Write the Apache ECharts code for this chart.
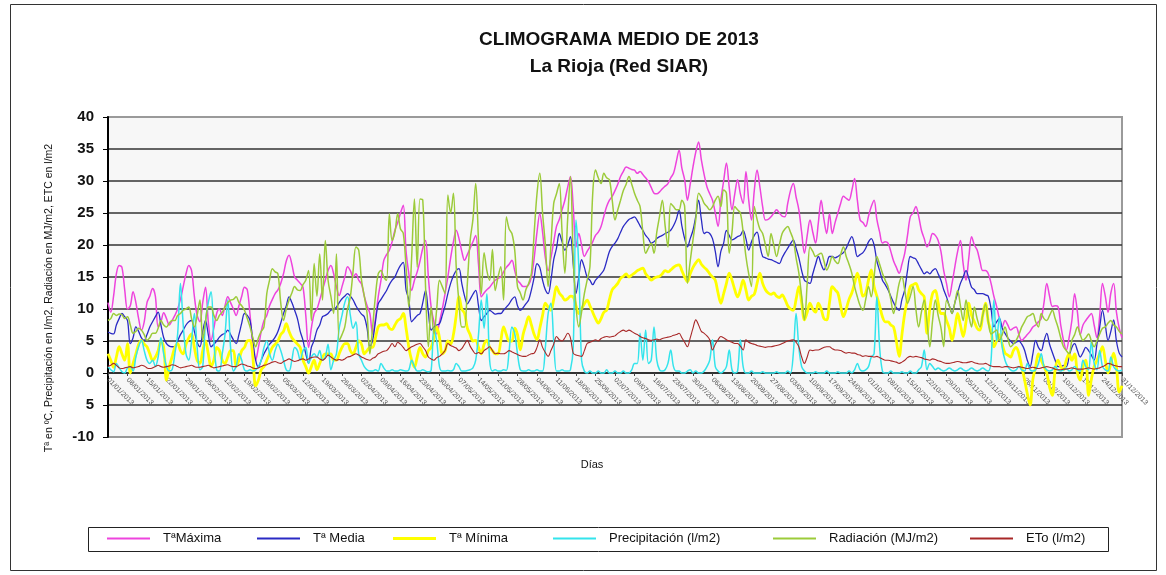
<!DOCTYPE html>
<html>
<head>
<meta charset="utf-8">
<title>Climograma medio 2013 - La Rioja</title>
<script src="https://cdn.jsdelivr.net/npm/echarts@6/dist/echarts.min.js"></script>
<style>
  html, body { margin: 0; padding: 0; background: #fff; }
  #chart { width: 1166px; height: 575px; }
</style>
</head>
<body>
<div id="chart"></div>
<script>
// valores diarios (01/01/2013 - 31/12/2013)
const tMax = [
  11, 9.5, 12, 15.5, 16.8, 16.5, 13, 10, 10.5, 12.7,
  11, 8.5, 6.7, 8, 11, 12, 13.2, 12, 7.2, 8,
  9.4, 8.5, 7.5, 8.2, 9, 10, 11.5, 13.5, 15.5, 16.8,
  16, 12, 9, 8, 11, 13.4, 8, 5.1, 7, 9.3,
  10, 9, 10.5, 11.9, 11, 10, 9, 10.5, 12, 13.4,
  13, 9, 4.5, 2, 4, 6.5, 8.2, 9, 10.5, 11.5,
  12.4, 13, 14, 15.5, 17.5, 18.4, 17, 15, 14.5, 14,
  13.4, 9, 4, 7, 9.3, 10, 11.4, 13, 14.5, 16,
  16.8, 15.5, 13.5, 12.1, 13.5, 15, 16.6, 16, 15, 15.5,
  14.5, 13.9, 12, 10.5, 9.3, 6.1, 8.5, 11.9, 14.5, 17.6,
  18.5, 19.2, 20.5, 22.3, 23.5, 25, 26.2, 19, 15.5, 12.9,
  14.5, 15.8, 17.5, 19.5, 20.7, 15, 10.3, 8, 6.1, 8,
  10, 12.4, 15, 18, 20.5, 22.3, 21, 19, 17.6, 18.5,
  19.5, 20.5, 21.5, 17, 11.9, 12.5, 13, 13.4, 14, 14.5,
  14.8, 15, 15.8, 16.5, 17, 17.6, 16, 14.5, 14, 13.5,
  13.5, 13.8, 15, 18, 22, 24.9, 22, 18, 16, 18,
  20.5, 22.9, 24, 25.5, 27, 29, 30.7, 26, 19.7, 21.8,
  20, 18.2, 19, 19.7, 20.5, 21.5, 22, 22.9, 24.5, 26,
  27, 27.6, 28.5, 29.5, 30.7, 31.5, 32.2, 32, 31.8, 31.7,
  31.2, 31.5, 31, 30.5, 29.9, 29, 28.1, 28, 28.3, 28.8,
  29.2, 29.6, 30.5, 31.2, 33, 34.8, 32, 30.2, 27, 29.5,
  32.2, 34.5, 36.1, 33.3, 31, 29.1, 28, 27, 25, 22.9,
  27, 30, 32.8, 29, 25.5, 28, 30.2, 28, 26.5, 31.5,
  27, 23.9, 28.5, 31.7, 29.1, 26, 23.9, 24, 24.4, 25,
  25.5, 25, 24.5, 24.4, 26.5, 28.5, 29.6, 27.5, 25.5, 22,
  18.7, 21.5, 23.9, 22, 20.3, 23.5, 27, 24, 21.8, 24.9,
  21.8, 23.5, 25, 26.5, 27.6, 27.3, 27, 28.5, 30.4, 27,
  23.9, 23.5, 22.9, 24.5, 26, 27, 24, 22, 20.3, 20.5,
  20.3, 19, 17.5, 16.5, 15.6, 17, 18.7, 21.5, 24.4, 25,
  26, 24.5, 22.3, 21, 19.7, 20.5, 21.8, 21.5, 20.7, 19,
  16, 14, 11.9, 14, 16.6, 19, 20.7, 17, 14.5, 18,
  21.3, 20, 19.2, 17.5, 16, 16, 15.5, 14, 12, 10.4,
  8.5, 7.2, 8.2, 7.5, 6.7, 7, 7.2, 6, 5.1, 5.5,
  6, 6.5, 7.2, 7.5, 8, 8.5, 11, 14, 12, 10.4,
  10.5, 10.4, 7.5, 5.1, 3.6, 5.5, 8.2, 12.4, 9.5, 6,
  7.5, 8.2, 8.8, 9.3, 7.5, 5.5, 9, 14, 12, 9.5,
  12.5, 14, 9.5, 7, 5.5
];

const tMed = [
  6.4, 6.2, 6.1, 7.5, 8.5, 9.3, 8.8, 8.2, 4.6, 5.5,
  7.2, 6.5, 5.5, 5.1, 6, 7.2, 8, 8.8, 9.5, 7.5,
  5.5, 4.6, 4.2, 4.1, 4.1, 5, 6, 6.7, 7.5, 8,
  8.2, 6.5, 4.8, 4.1, 6.5, 8.2, 6, 4.1, 4.5, 5,
  5.6, 6, 6.2, 6.7, 6, 5.2, 4.6, 6, 7.8, 9.3,
  9, 8.2, 5, 2, 0.9, 2, 3, 3.8, 4.5, 5,
  5.6, 6.5, 7.8, 9.3, 10.5, 11.9, 11, 9.8, 8.5, 6.5,
  5.1, 3, 1.5, 4, 5.1, 6.7, 7.5, 8.8, 9, 9.3,
  9.8, 10, 10.3, 11, 11.6, 12, 12.4, 12, 11.4, 10.5,
  9.8, 9.2, 8.8, 7, 4.1, 5.1, 8, 10.8, 11.5, 12.2,
  12.9, 13.8, 14.5, 15, 16, 16.8, 17.3, 13, 11.4, 8,
  8.5, 9, 9.3, 11, 12.9, 9.5, 6.7, 7.2, 7.5, 7.7,
  9, 10.5, 12.4, 14, 15.2, 16, 16.3, 14, 12, 10.8,
  11.5, 12.3, 12.9, 10.5, 8.2, 8.8, 9.3, 9.8, 9.5, 9.2,
  9.3, 9.3, 9.8, 10.3, 10.8, 11.5, 11.9, 10.5, 9.8, 10.2,
  10.8, 11.4, 13, 15, 17.1, 16.5, 14.5, 13, 12.4, 14.5,
  17.7, 19.5, 21.8, 20.5, 19.2, 20, 21.3, 17, 12.4, 15,
  17.7, 16.5, 15, 14.5, 13.8, 14.5, 15, 15.5, 16.1, 17.5,
  19, 19.8, 20.3, 21, 22, 22.9, 23.5, 24, 24.2, 24.4,
  23.8, 23, 22.3, 21.5, 21, 20.3, 20.5, 21, 21.3, 21.5,
  21.8, 22, 22.3, 23, 24, 25.5, 23, 21, 19.7, 21,
  22.3, 24.5, 27, 24, 21.8, 22, 21.8, 21, 19, 16.6,
  19, 20.3, 22.3, 21.5, 20.8, 21, 21.3, 21.5, 22.3, 21,
  19.2, 20.5, 21.5, 22, 20, 18.2, 18, 17.8, 17.7, 17.5,
  17.3, 17.1, 18, 18.8, 19.5, 20.2, 20.8, 19.5, 18, 16,
  14.5, 14.2, 14, 15.5, 17, 18.2, 17, 16.1, 17, 18.2,
  18.2, 18, 18.2, 18.5, 18.8, 19.5, 20.5, 21.3, 20, 18.2,
  18.5, 18.8, 19.5, 20.5, 21, 20, 17.5, 16, 14.5, 13.8,
  13, 12, 11, 10.2, 9.8, 11.5, 13, 16, 18.2, 18,
  17.8, 17, 16.2, 15.5, 15.8, 15.5, 16, 16.3, 15.5, 14.5,
  13, 11.9, 10.5, 9.3, 11, 12.5, 14, 15, 16, 14.8,
  13.4, 13, 12.4, 12.4, 12.4, 12.2, 12, 10, 7.2, 8,
  8.5, 7, 6.2, 5.5, 5, 4.6, 4.8, 5, 4.5, 3.6,
  2, 1, 3, 5.1, 4, 3.5, 5, 6.2, 4.5, 3.2,
  2, 1, 1, 1.2, 1, 2.5, 4, 4.6, 3.5, 2.5,
  3.2, 4, 3.5, 2.8, 2, 4.5, 7.2, 9.8, 7.5, 5.1,
  6.5, 8.3, 5, 3.1, 2.5
];

const tMin = [
  3, 2, 0.9, 2.5, 4.1, 3, 2, 4.6, 0, 1.5,
  3, 4.5, 5.1, 4.5, 4.1, 3, 2, 2.5, 3.5, 5,
  4, -1.1, 1, 2.5, 4, 4.6, 3.5, 3, 4.5, 5.5,
  6.1, 4, 2, 1.5, 3.5, 5, 3, 1, 2, 4,
  3.5, 2, 1.5, 2.5, 3.5, 3.5, 1, 2, 3.5, 4,
  5, 5.1, 2.5, -2, -1.1, 0.5, 1, 2, 3, 4,
  4.5, 5, 6, 6.5, 7.7, 6.5, 5.5, 5, 4.5, 4,
  2, 1, 0, 1, 2, 0.5, 1.5, 2.5, 3, 3,
  3, 2, 2, 3, 4, 4.6, 4.6, 3.5, 3, 4,
  5, 4.5, 3, 3.5, 4, 4, 5.5, 7.2, 7.5, 7.5,
  7.7, 7, 6.8, 7.5, 8.2, 8.5, 9.3, 7, 4, 2,
  0.9, 2.5, 4, 3, 2.5, 3.5, 4, 5.5, 7.2, 5.5,
  3, 3.5, 5, 4.5, 6, 9, 11.9, 10, 9.3, 7,
  6, 5, 5.1, 4, 3, 4.5, 5.1, 4, 3.5, 3,
  3, 5, 7.2, 6, 5, 5, 7, 6, 3.6, 6,
  7.5, 8.8, 7.5, 6, 5.2, 7, 9, 10.9, 10.3, 9.8,
  11.5, 13.5, 12.5, 12, 11.4, 11.6, 12, 11.9, 10.5, 9.3,
  10, 10.8, 11.4, 10.5, 9.5, 8.5, 7.8, 8.5, 9.5, 9.8,
  11.5, 13, 13.5, 14, 14.8, 15.1, 15.5, 15, 15.3, 15.6,
  16, 16.2, 16.4, 15.5, 15, 14.5, 14.8, 15, 15.1, 15.5,
  16, 15.8, 16.1, 16.5, 16.8, 16.9, 16, 15, 14.3, 15.5,
  16.5, 17.2, 17.7, 17, 16.5, 16.1, 15.5, 15, 14.5, 12.5,
  10.9, 12.4, 14, 15.6, 14.5, 13, 11.9, 13, 14.5, 13,
  11.4, 12, 12.3, 14, 15.6, 14, 13, 12.5, 12.3, 12.5,
  12, 11.8, 12.2, 11.5, 10.5, 10, 9.8, 11.5, 13.5, 11,
  8.3, 9.5, 10.9, 10, 9.5, 10.9, 10, 8.5, 8.3, 11,
  13.5, 13, 12.5, 10.5, 8.8, 10, 11.5, 12.5, 14, 15.6,
  14, 12, 12.5, 14.5, 16.1, 13.5, 12, 10.5, 8.8, 8,
  8, 7.5, 7.2, 5, 2.6, 6, 9.3, 11.5, 13.5, 13.8,
  14, 13, 12.4, 11.9, 6.2, 10, 12.4, 12.9, 11, 9.3,
  9.3, 8.2, 7, 5.1, 7, 9.3, 7.5, 5.7, 8, 10.9,
  9, 8, 7, 6.7, 9, 10.9, 8, 6.5, 4.1, 5,
  6, 4.5, 3.1, 2.8, 2.5, 3.5, 4, 3, 1, -1,
  -3.2, -5, -1, 1, 3, 2, 1, 0, -2.2, -3.5,
  0.5, 2, 1, 0.5, 2, 3, 2, 3, 0, -1.1,
  1, 2, -3.5, -1, 1, 2, 3, 4.1, 2, 0,
  1.5, 3.1, 1, -3, -2
];

const precip = [
  1, 0.5, 0.2, 1.5, 0.8, 0.2, 0, 0.8, 1, 0.3,
  2.5, 4.1, 5.1, 3.5, 2, 1.5, 2, 1, 2.5, 5.5,
  3, 1, 0.3, 0.5, 3, 6.1, 14, 7.5, 3, 2,
  5, 9.3, 4, 0.5, 1, 8, 11, 12.7, 5, 0.5,
  0.3, 3, 6, 11.4, 4, 0.3, 1, 3, 2, 0.5,
  0.3, 0.5, 0.3, 0.5, 1, 2, 4, 5, 3, 2,
  3.5, 4.5, 3.5, 2, 0.5, 0.3, 2, 4, 3.5, 2,
  3.5, 4, 1.5, 2.5, 3, 2.5, 3.5, 2, 2.5, 4.5,
  0.5, 2, 3, 7, 9, 11, 11.9, 9, 7, 8,
  3, 2, 1, 0.5, 0.3, 0.3, 0.5, 0.3, 1.5, 0.8,
  0.3, 0.3, 0.5, 0.3, 0.3, 0.5, 0.4, 0.3, 0.5, 2,
  1, 0.3, 0.3, 0.5, 0.3, 0.2, 0.4, 7, 5, 1,
  0.3, 0.3, 0.4, 0.3, 0.5, 1.5, 1, 0.3, 0.3, 0.4,
  0.5, 0.8, 2, 6, 11.4, 7, 12.4, 2, 0.3, 0.5,
  0.3, 0.3, 0.5, 0.4, 3.5, 7.2, 6.2, 3, 0.5, 0.3,
  0.3, 0.5, 0.3, 0.3, 0.5, 0.3, 0.3, 4, 9.3, 10.9,
  5, 0.3, 0.3, 0.5, 0.3, 0.3, 0.5, 4, 23.9, 16.6,
  2, 0.3, 0, 0.3, 0, 0, 0.3, 0, 0, 0.5,
  0, 0, 0.3, 0, 0, 0.3, 0, 0, 0.5, 1.5,
  1.5, 6.2, 2, 6.7, 1.5, 2, 7.2, 2, 0.5, 0.3,
  0.5, 1.5, 3.6, 1, 0.3, 0.3, 0, 0, 0.3, 0.5,
  0, 0.3, 0, 0, 0.3, 1, 2, 5.2, 1, 0.3,
  0, 0.3, 1, 3.6, 0.5, 0, 0.3, 5.2, 1, 0,
  0, 0.3, 0, 0, 0, 0.2, 0, 0, 0, 0,
  0.2, 0, 0, 0, 0.3, 0, 3, 9.3, 4, 1,
  0.3, 0, 0, 0, 0.2, 0, 0, 0, 0.3, 0,
  0, 0, 0.2, 0, 0, 0, 0.3, 0, 0.5, 1.5,
  0.5, 0.3, 0.5, 1, 2.5, 3, 11.9, 4, 0.3, 0,
  0, 0.3, 0, 0, 0, 0.2, 0, 0, 0.3, 0,
  0, 0.5, 1, 3.6, 0.5, 1.5, 1, 0.5, 0.8, 0.5,
  0.3, 0.5, 0.8, 0.5, 0.3, 0.5, 0.8, 0.5, 0.3, 0.5,
  0.8, 0.5, 0.3, 0.5, 0.8, 0.5, 0.3, 2, 11.4, 5,
  8.8, 4, 2, 1, 0.5, 0.3, 0.5, 1, 0.5, 0.3,
  1.5, 0.5, 0.3, 0.5, 1.5, 3, 1, 0.5, 0.3, 0.5,
  1, 0.5, 0.3, 0.5, 0.8, 0.3, 0.5, 1, 0.5, 0.3,
  2, 1, 0.5, 5, 1.5, 0.5, 3.5, 1, 0.5, 0.3,
  2.5, 1, 0.5, 0.3, 0.5
];

const radiacion = [
  8.2, 8.5, 9.3, 9, 9.2, 9.1, 8.5, 8.8, 7.5, 6.2,
  6.5, 7, 6.7, 6, 5.1, 5.5, 6.2, 6.2, 7, 8.2,
  7.5, 7.2, 7.8, 8.2, 8.2, 9, 9.3, 9.8, 10, 10.3,
  8.5, 7.2, 9, 11.4, 5.1, 8, 10.3, 10.3, 9, 8.2,
  9, 9.5, 10.3, 11, 11.4, 11.5, 11.9, 11, 10.5, 9.8,
  8.5, 7.2, 5.5, 4.1, 5.5, 6.5, 7.2, 12.4, 14.5, 16.3,
  15.8, 15.5, 11, 8.2, 10, 11.4, 12.5, 13.5, 13, 12.9,
  13.8, 14.5, 16, 8.2, 17.1, 12, 18.6, 11.4, 20.7, 14.5,
  12, 9.3, 18.6, 5.1, 6, 7.2, 10, 11.9, 16, 19.7,
  19.2, 14.5, 12, 9.3, 3, 7.2, 12, 15.5, 16, 15,
  14.5, 24.9, 20.7, 22, 24.9, 22.5, 21.8, 16.5, 10.3, 18,
  27.2, 16.5, 27.2, 27, 13.4, 4.1, 10.3, 6.1, 10, 14.5,
  13.5, 12.4, 27.8, 25, 28.1, 16.6, 11, 7.2, 7.2, 14,
  20.7, 24, 29.6, 20.7, 12.4, 18.8, 16, 14.5, 19.3, 12.9,
  15, 16.6, 11.4, 24.4, 22.5, 21.8, 19.2, 13.5, 12.5, 11.4,
  13, 14, 15.6, 22, 28, 31.2, 25, 20, 13.5, 20,
  26.5, 28, 29.6, 22, 15.6, 24, 30.7, 18, 10.4, 7.2,
  9.5, 12.4, 14.5, 16.6, 28, 31.7, 30.5, 29.6, 31.2, 30.5,
  30.2, 27, 23.9, 25.5, 27, 28.5, 29.5, 30.7, 29.5, 28.1,
  27, 26, 22, 18.7, 19.5, 20.3, 18.7, 22, 24.5, 27,
  23, 19.7, 26.5, 26, 25.5, 25.5, 27, 26, 14, 17.5,
  20.8, 24, 28.1, 27.5, 26.5, 26, 25.5, 26, 27, 27.6,
  26, 28.6, 28.1, 18.7, 22, 26, 25.5, 25, 22, 18.2,
  15.5, 13.5, 26, 24, 22.5, 21.8, 20, 18.2, 21.8, 20,
  18.2, 20, 21.8, 22.5, 22.9, 22, 20.8, 18, 15.6, 12,
  8.3, 14, 19.7, 19, 18.2, 18.5, 18.7, 17.5, 16.1, 17,
  18.2, 17.5, 17.1, 18.5, 19.7, 18.2, 17, 15.6, 13.5, 11.9,
  10.5, 9.8, 11.5, 13.5, 11.9, 15, 18.2, 17, 15.6, 14.5,
  13.5, 11.5, 9.3, 11.5, 14, 15, 13, 10.9, 12, 13.5,
  10, 7.2, 9.5, 11.4, 8, 4.1, 8.2, 11.4, 9, 7.1,
  4.1, 11.4, 10.5, 9.3, 11, 12.9, 10.5, 8.2, 11.4, 9,
  7.2, 10.3, 8.5, 7.2, 9, 10.8, 8, 6.1, 6.4, 6.7,
  5.1, 6, 7.2, 5.5, 4.1, 4.5, 5.1, 6, 7.2, 8,
  8.8, 9, 9.3, 8, 7.2, 9.3, 8.5, 8.2, 9, 9.8,
  8.5, 7.2, 5.5, 4.1, 3.5, 3, 5.1, 6, 7.2, 6,
  5.1, 5.5, 6.1, 5, 4.1, 5, 6.1, 7, 7.2, 7.8,
  8.2, 7.5, 7.2, 6.5, 6.1
];

const eto = [
  1, 1.2, 1.5, 1.2, 0.8, 0.7, 0.8, 0.9, 1, 0.8,
  0.9, 1, 1.2, 1.1, 0.8, 0.7, 0.8, 1, 1.2, 1,
  0.9, 1, 1.1, 1.3, 1.2, 1, 0.8, 0.9, 1, 1.1,
  1.2, 1, 0.9, 0.9, 1, 1.1, 1.2, 1, 0.8, 0.9,
  1, 1.1, 1.2, 1.3, 1.1, 1, 1, 1.2, 1.4, 1.3,
  1.1, 1, 0.8, 0.7, 0.8, 1, 1.2, 1.3, 1.5, 1.7,
  1.8, 1.6, 1.5, 1.8, 2, 2.2, 2, 1.8, 1.9, 2.1,
  2.2, 2, 2.2, 2.4, 2.5, 2.5, 2.2, 2, 2.3, 2.8,
  2.5, 2.2, 2, 2.1, 2, 2.2, 2.5, 2.6, 2.8, 3,
  2.8, 2.5, 2.3, 2.1, 2, 2.3, 2.5, 3, 3.2, 3.4,
  3.5, 4, 4.6, 4.1, 4.8, 4.5, 4, 3.5, 3.8, 4.1,
  4.3, 4.5, 4.6, 4.1, 3.5, 2.5, 2.2, 2, 2.4, 2.6,
  3, 3.5, 4.6, 4.3, 4.1, 3.9, 3.5, 3.8, 4.5, 5.1,
  4.2, 3.5, 3, 3.2, 3, 3.5, 3.8, 4.1, 3.5, 3,
  3.1, 3, 3, 3.2, 3.5, 3.3, 3.1, 2.9, 2.7, 2.6,
  2.6, 2.8, 3, 3.1, 4, 5.2, 4, 3.2, 2.6, 3.5,
  4.5, 5.7, 5.2, 5, 5.5, 6.2, 5.5, 3.1, 2.8, 2.7,
  2.6, 3.5, 4.6, 4.8, 5, 5.2, 5, 5.4, 5.6, 5.7,
  5.6, 5.7, 5.8, 6.2, 6.5, 6.7, 6.5, 6.7, 6.5, 6.2,
  6, 5.7, 5.5, 5.4, 5.2, 5.1, 5.2, 5.3, 5.2, 5.4,
  5.5, 5.6, 5.7, 5.9, 6, 6.2, 5.5, 4.8, 4.1, 5.5,
  7, 8.3, 7.5, 6.5, 6.2, 5.8, 5.2, 3.6, 4.5, 5.2,
  5.7, 5.5, 5.2, 5, 4.8, 4.6, 4.6, 4.2, 3.6, 5.2,
  4.8, 4.6, 4.5, 4.3, 4.2, 4.1, 4, 4.1, 4.1, 4.2,
  4.3, 4.4, 4.6, 4.8, 5, 5.1, 5.2, 4.8, 4.1, 2.5,
  1.5, 2.5, 3.6, 3.5, 3.6, 3.6, 3.8, 4, 4.1, 4.1,
  3.8, 3.6, 3.6, 3.5, 3.3, 3.1, 3.2, 3.1, 3.1, 2.9,
  2.8, 2.6, 2.7, 2.6, 2.6, 2.5, 2.6, 2.4, 2.2, 2,
  2, 1.9, 1.8, 1.7, 1.5, 1.7, 2, 2.4, 2.6, 2.5,
  2.6, 2.5, 2.4, 2.2, 2.1, 2, 2.2, 2.1, 1.9, 1.8,
  1.6, 1.5, 1.5, 1.6, 1.7, 1.8, 1.7, 1.6, 1.6, 1.7,
  1.8, 1.6, 1.5, 1.4, 1.4, 1.5, 1.3, 1.1, 1, 1,
  1, 0.9, 1, 1, 0.9, 0.8, 0.9, 1, 0.9, 0.8,
  0.7, 0.8, 0.9, 0.8, 0.7, 0.8, 0.9, 1, 0.9, 0.8,
  0.6, 0.5, 0.5, 0.6, 0.6, 0.7, 0.8, 0.7, 0.6, 0.6,
  0.6, 0.7, 0.8, 0.7, 0.6, 0.7, 0.8, 1, 1.2, 1.5,
  1.4, 1.2, 1.1, 1, 1
];

const seriesNames = ['TªMáxima', 'Tª Media', 'Tª Mínima', 'Precipitación (l/m2)', 'Radiación (MJ/m2)', 'ETo (l/m2)'];
const seriesColors = ['#ee44dd', '#2a2ac4', '#ffff00', '#33e4ec', '#9ccb3a', '#a82828'];
const seriesWidths = [1.5, 1.3, 2.8, 1.5, 1.5, 1.1];
const seriesData = [tMax, tMed, tMin, precip, radiacion, eto];
// inicio de cada entrada de la leyenda (px)
const legendLeft = [107, 257, 393, 553, 773, 970];

// etiquetas de días dd/mm/2013
const dias = [];
for (let d = new Date(2013, 0, 1); d.getFullYear() === 2013; d.setDate(d.getDate() + 1)) {
  const dd = String(d.getDate()).padStart(2, '0');
  const mm = String(d.getMonth() + 1).padStart(2, '0');
  dias.push(dd + '/' + mm + '/2013');
}

const font = '"Liberation Sans", Arial, sans-serif';

const chart = echarts.init(document.getElementById('chart'));

const gridColors = ['#9a9a9a', '#333', '#333', '#333', '#333', '#333', '#333', '#333', '#333', '#333', '#9a9a9a'];

const option = {
  animation: false,
  backgroundColor: '#fff',
  textStyle: { fontFamily: font },
  grid: {
    left: 108, right: 44, top: 117, bottom: 138,
    show: true,
    backgroundColor: '#f7f7f7',
    borderColor: '#9a9a9a',
    borderWidth: 2
  },
  xAxis: {
    type: 'category',
    data: dias,
    boundaryGap: false,
    // el eje X se dibuja sobre la línea del 0 (64 px por encima del borde inferior)
    offset: -64,
    axisLine: { onZero: false, lineStyle: { color: '#222', width: 1.5 } },
    axisTick: { show: true, interval: 6, length: 3, lineStyle: { color: '#444' } },
    axisLabel: {
      interval: 6,
      rotate: -45,
      fontSize: 7,
      color: '#555',
      margin: 6
    },
    splitLine: { show: false }
  },
  yAxis: {
    type: 'value',
    min: -10,
    max: 40,
    interval: 5,
    axisLine: { show: true, lineStyle: { color: '#000', width: 2 } },
    axisTick: { show: true, length: 5, lineStyle: { color: '#000' } },
    axisLabel: {
      fontSize: 15,
      fontWeight: 'bold',
      color: '#111',
      margin: 14,
      formatter: (v) => (v === -5 ? '5' : String(v))
    },
    splitLine: { show: true, lineStyle: { color: gridColors, width: 1.5 } }
  },
  legend: seriesNames.map((name, i) => ({
    data: [name],
    left: legendLeft[i],
    top: 532,
    icon: 'rect',
    itemWidth: 43,
    itemHeight: i === 2 ? 3 : 2,
    padding: 0,
    textStyle: { fontSize: 13, color: '#111', padding: [0, 0, 0, 8] }
  })),
  series: seriesNames.map((name, i) => ({
    name,
    type: 'line',
    data: seriesData[i],
    showSymbol: false,
    smooth: 0.35,
    color: seriesColors[i],
    lineStyle: { color: seriesColors[i], width: seriesWidths[i] },
    emphasis: { disabled: true }
  })),
  graphic: [
    {
      type: 'rect',
      silent: true,
      z: -10,
      shape: { x: 10.5, y: 4.5, width: 1146, height: 566 },
      style: { fill: 'none', stroke: '#333', lineWidth: 1 }
    },
    {
      type: 'rect',
      silent: true,
      z: -5,
      shape: { x: 88.5, y: 527.5, width: 1020, height: 24 },
      style: { fill: '#fff', stroke: '#222', lineWidth: 1 }
    },
    {
      type: 'text',
      silent: true,
      style: {
        text: 'CLIMOGRAMA MEDIO DE 2013',
        x: 619, y: 40,
        textAlign: 'center', textVerticalAlign: 'middle',
        font: 'bold 19px ' + font,
        fill: '#111'
      }
    },
    {
      type: 'text',
      silent: true,
      style: {
        text: 'La Rioja (Red SIAR)',
        x: 619, y: 67,
        textAlign: 'center', textVerticalAlign: 'middle',
        font: 'bold 19px ' + font,
        fill: '#111'
      }
    },
    {
      type: 'text',
      silent: true,
      x: 49, y: 298,
      rotation: Math.PI / 2,
      style: {
        text: 'Tª en ºC, Precipitación en l/m2, Radiación en MJ/m2, ETC en l/m2',
        textAlign: 'center', textVerticalAlign: 'middle',
        font: '10.5px ' + font,
        fill: '#111'
      }
    },
    {
      type: 'text',
      silent: true,
      style: {
        text: 'Días',
        x: 592, y: 465,
        textAlign: 'center', textVerticalAlign: 'middle',
        font: '11px ' + font,
        fill: '#111'
      }
    }
  ]
};

chart.setOption(option);
</script>
</body>
</html>
